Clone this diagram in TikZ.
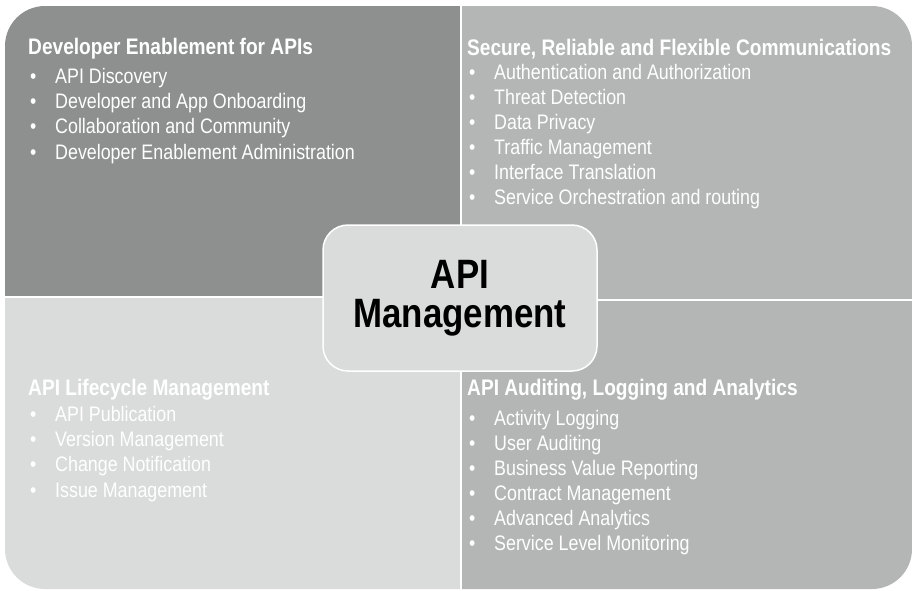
\documentclass[tikz,border=0pt]{standalone}
\usepackage{fontspec}
\setmainfont[FakeStretch=0.85]{Liberation Sans}
\definecolor{quaddark}{HTML}{8E8F8F}
\definecolor{quadmid}{HTML}{B4B5B5}
\definecolor{quadlight}{HTML}{DADBDB}
\newcommand{\blt}{\makebox[27pt][l]{\hspace{2pt}\textbullet}}
\begin{document}
\begin{tikzpicture}[x=1pt, y=-1pt,
  head/.style={anchor=base west, inner sep=0pt, text=white, font=\fontsize{22.5}{25}\selectfont\bfseries},
  list/.style={anchor=base west, inner sep=0pt, text=white, align=left, font=\fontsize{21}{#1}\selectfont},
  hub/.style={draw=white, line width=1.5pt, fill=quadlight, rounded corners=25pt, minimum width=274pt, minimum height=146pt, align=center, font=\fontsize{41}{39}\selectfont\bfseries}]
\useasboundingbox (0,0) rectangle (912,590);
\begin{scope}
  \clip[rounded corners=40pt] (5,6) rectangle (912,589);
  \fill[quaddark] (0,0) rectangle (460,296);
  \fill[quadmid] (462,0) rectangle (912,299);
  \fill[quadlight] (0,298) rectangle (460,590);
  \fill[quadmid] (462,301) rectangle (912,590);
\end{scope}
% top left (lists sit on their last baseline)
\node[head] (devhead) at (28,54) {Developer Enablement for APIs};
\node[list=25.3pt] (devlist) at (28,159) {\blt API Discovery\\
  \blt Developer and App Onboarding\\
  \blt Collaboration and Community\\
  \blt Developer Enablement Administration};
% top right
\node[head] (sechead) at (467,55) {Secure, Reliable and Flexible Communications};
\node[list=25pt] (seclist) at (467,204) {\blt Authentication and Authorization\\
  \blt Threat Detection\\
  \blt Data Privacy\\
  \blt Traffic Management\\
  \blt Interface Translation\\
  \blt Service Orchestration and routing};
% bottom left
\node[head] (lifehead) at (28,395) {API Lifecycle Management};
\node[list=25.3pt] (lifelist) at (28,497) {\blt API Publication\\
  \blt Version Management\\
  \blt Change Notification\\
  \blt Issue Management};
% bottom right
\node[head] (audhead) at (467,395) {API Auditing, Logging and Analytics};
\node[list=25pt] (audlist) at (467,550) {\blt Activity Logging\\
  \blt User Auditing\\
  \blt Business Value Reporting\\
  \blt Contract Management\\
  \blt Advanced Analytics\\
  \blt Service Level Monitoring};
\node[hub] (api) at (460,298) {API\\Management};
\end{tikzpicture}
\end{document}
